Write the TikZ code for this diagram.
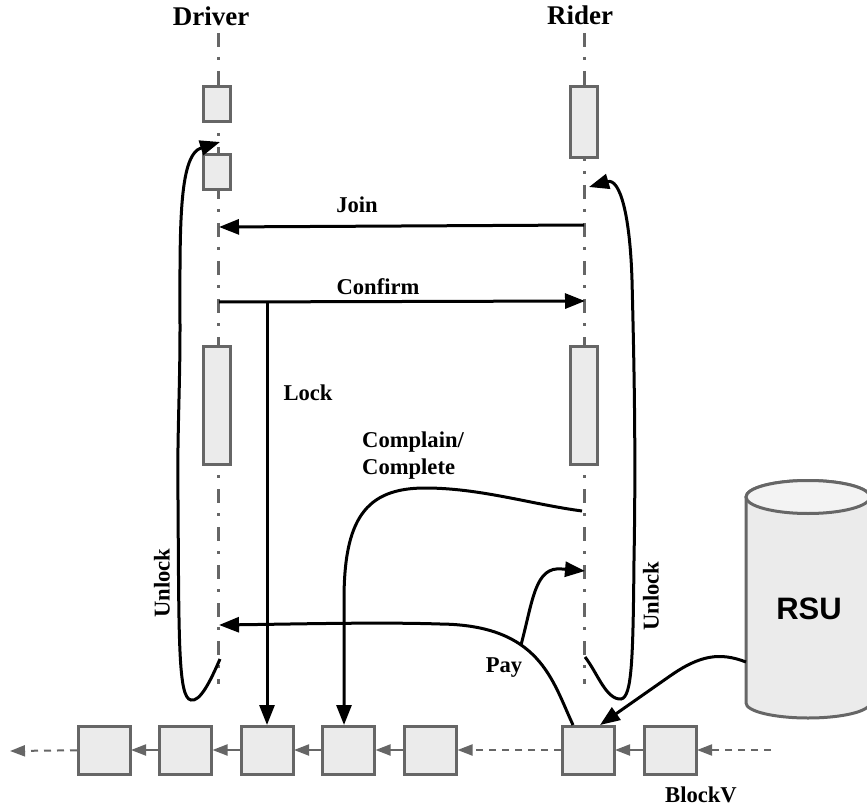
\documentclass[tikz,border=0pt]{standalone}
\usepackage{fontspec}
\setmainfont{Liberation Serif}
\newfontfamily\rsufont{Liberation Sans}
\usetikzlibrary{arrows.meta}
\definecolor{boxgray}{HTML}{EBEBEB}
\definecolor{linegray}{HTML}{666666}
\begin{document}
\begin{tikzpicture}[x=1pt,y=-1pt,
  lifeline/.style={draw=linegray,line width=3pt,dash pattern=on 14pt off 10pt on 3pt off 11pt},
  slot/.style={draw=linegray,line width=3pt,fill=boxgray,minimum width=27pt,inner sep=0pt,outer sep=0pt},
  block/.style={draw=linegray,line width=3pt,fill=boxgray,minimum width=52pt,minimum height=48pt,inner sep=0pt,outer sep=1pt},
  link/.style={draw=linegray,line width=2pt,-{Triangle[length=15pt,width=11pt]}},
  linkdash/.style={link,dash pattern=on 7pt off 6pt},
  msg/.style={draw=black,line width=3pt,-{Triangle[length=20pt,width=15pt]}},
  lab/.style={font=\fontsize{22.6}{27}\selectfont\bfseries,inner sep=0pt},
  head/.style={font=\fontsize{27}{32}\selectfont\bfseries,inner sep=0pt}]
\useasboundingbox (0,0) rectangle (867,810);
% lifelines
\coordinate (drivertop) at (218,33);
\coordinate (driverend) at (218,684);
\coordinate (ridertop) at (584,33);
\coordinate (riderend) at (584,684);
\draw[lifeline] (drivertop) -- (driverend);
\draw[lifeline] (ridertop) -- (riderend);
\node[head] (driver) at (211,16) {Driver};
\node[head] (rider) at (580,15) {Rider};
% activation boxes
\node[slot,minimum height=35pt] (da) at (217,104.5) {};
\node[slot,minimum height=35pt] (db) at (217,172.5) {};
\node[slot,minimum height=118pt] (dc) at (217,405) {};
\node[slot,minimum height=71pt] (ra) at (584,122.5) {};
\node[slot,minimum height=118pt] (rc) at (584,405) {};
% chain
\node[block] (ba) at (104,750) {};
\node[block] (bb) at (185.5,750) {};
\node[block] (bc) at (267,750) {};
\node[block] (bd) at (348.5,750) {};
\node[block] (be) at (430.5,750) {};
\node[block] (bf) at (588,750) {};
\node[block] (bg) at (670,750) {};
\coordinate (chainleft) at (10,751);
\coordinate (chainright) at (771,750);
\draw[linkdash] (ba) -- (chainleft);
\foreach \a/\b in {bb/ba,bc/bb,bd/bc,be/bd,bg/bf} \draw[link] (\a) -- (\b);
\draw[linkdash] (bf) -- (be);
\draw[linkdash] (chainright) -- (bg);
% RSU
\draw[draw=linegray,line width=3pt,fill=boxgray] (746,497) -- (746,703)
  arc[start angle=180,end angle=360,x radius=62,y radius=-15] -- (870,497)
  arc[start angle=0,end angle=180,x radius=62,y radius=-16.5] -- cycle;
\draw[draw=linegray,line width=3pt,fill=boxgray!60!white] (808,497) ellipse[x radius=62,y radius=16.5];
\node[font=\rsufont\fontsize{31}{36}\selectfont\bfseries,inner sep=0pt] (rsu) at (809,609) {RSU};
% messages
\coordinate (joinr) at (584,225);
\coordinate (joind) at (219,227);
\coordinate (confd) at (219,302);
\coordinate (confr) at (585,301);
\coordinate (locktop) at (267,302);
\draw[msg] (joinr) -- (joind);
\draw[msg] (confd) -- (confr);
\draw[msg] (locktop) -- (bc.north);
\coordinate (compr) at (582,511);
\coordinate (compb) at ([xshift=-4.5pt]bd.north);
\draw[msg] (compr) .. controls (530,504) and (480,488) .. (425,488)
  .. controls (365,488) and (344,520) .. (344,600) -- (compb);
\coordinate (mainb) at ([xshift=-15pt]bf.north);
\coordinate (maind) at (219,625);
\coordinate (payfork) at (521,645);
\coordinate (payr) at (585,571);
\draw[msg] (mainb) .. controls (552,680) and (540,625) .. (440,624)
  .. controls (380,622) and (300,624) .. (maind);
\draw[msg] (payfork) .. controls (533,600) and (535,566) .. (562,569) -- (payr);
\coordinate (rsuout) at (746,662);
\coordinate (rsuin) at ([xshift=12pt]bf.north);
\draw[msg] (rsuout) .. controls (720,652) and (700,655) .. (670,676) -- (rsuin);
\coordinate (unlda) at (220,659);
\coordinate (unldb) at (220,142);
\draw[msg] (unlda) .. controls (210,682) and (200,702) .. (191,700)
  .. controls (178,698) and (179,640) .. (178,500)
  .. controls (177,440) and (180,390) .. (180,330)
  .. controls (180,230) and (178,155) .. (unldb);
\coordinate (unlra) at (585,657);
\coordinate (unlrb) at (589,187);
\draw[msg] (unlra) .. controls (597,672) and (606,700) .. (621,699)
  .. controls (632,697) and (633,660) .. (634,560)
  .. controls (636,450) and (634,360) .. (632,280)
  .. controls (630,215) and (620,178) .. (unlrb);
% labels
\node[lab] (joinlab) at (357,205) {Join};
\node[lab] (conflab) at (378,287) {Confirm};
\node[lab] (locklab) at (308,393) {Lock};
\node[lab,anchor=west] (complab) at (362,442) {Complain/};
\node[lab,anchor=west] (compltlab) at (362,469) {Complete};
\node[lab,rotate=90] (unldlab) at (162,583) {Unlock};
\node[lab,rotate=90] (unlrlab) at (651,596) {Unlock};
\node[lab] (paylab) at (504,668) {Pay};
\node[lab] (blocklab) at (701,795) {BlockV};
\end{tikzpicture}
\end{document}
